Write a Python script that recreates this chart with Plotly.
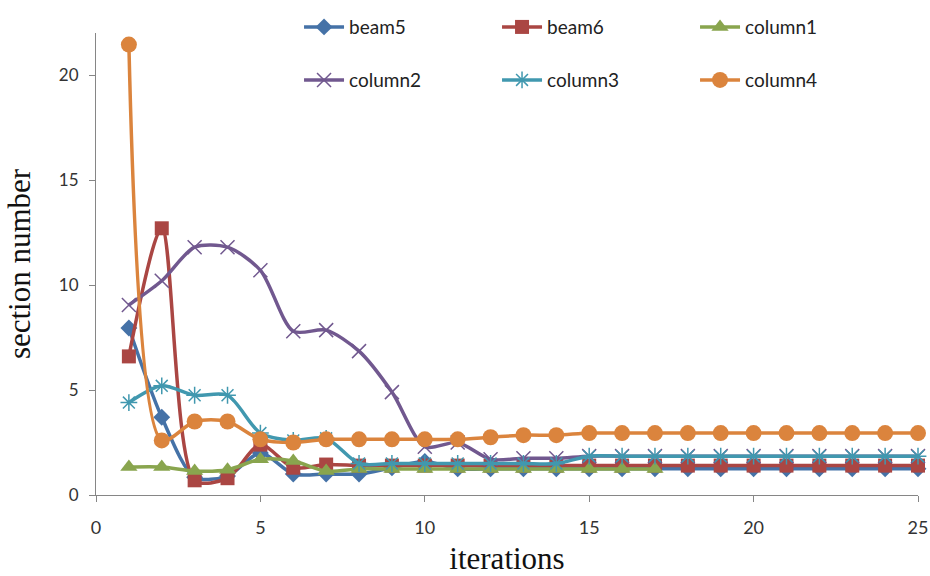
import plotly.graph_objects as go

iterations = list(range(1, 26))
beam5 = [7.95, 3.7, 0.85, 0.9, 2.0, 1.0, 1.0, 1.0, 1.3, 1.6, 1.25, 1.25, 1.25, 1.25, 1.25,
         1.25, 1.25, 1.25, 1.25, 1.25, 1.25, 1.25, 1.25, 1.25, 1.25]
beam6 = [6.6, 12.7, 0.7, 0.8, 2.4, 1.3, 1.45, 1.4, 1.4, 1.4, 1.4, 1.4, 1.4, 1.4, 1.4,
         1.4, 1.4, 1.4, 1.4, 1.4, 1.4, 1.4, 1.4, 1.4, 1.4]
column1_x = list(range(1, 18))
column1 = [1.33, 1.33, 1.14, 1.2, 1.7, 1.62, 1.14, 1.24, 1.24, 1.24, 1.24, 1.24, 1.24, 1.24,
           1.24, 1.24, 1.24]
column2 = [9.05, 10.2, 11.8, 11.8, 10.7, 7.8, 7.85, 6.85, 4.9, 2.3, 2.5, 1.7, 1.75, 1.75, 1.85,
           1.85, 1.85, 1.85, 1.85, 1.85, 1.85, 1.85, 1.85, 1.85, 1.85]
column3 = [4.4, 5.2, 4.75, 4.75, 2.95, 2.6, 2.7, 1.5, 1.5, 1.5, 1.5, 1.5, 1.5, 1.5, 1.85,
           1.85, 1.85, 1.85, 1.85, 1.85, 1.85, 1.85, 1.85, 1.85, 1.85]
column4 = [21.45, 2.6, 3.5, 3.5, 2.65, 2.5, 2.65, 2.65, 2.65, 2.65, 2.65, 2.75, 2.85, 2.85, 2.95,
           2.95, 2.95, 2.95, 2.95, 2.95, 2.95, 2.95, 2.95, 2.95, 2.95]

series = [
    ("beam5", iterations, beam5, "#4572A7", "diamond", 13, "legend"),
    ("beam6", iterations, beam6, "#AA4643", "square", 14, "legend"),
    ("column1", column1_x, column1, "#89A54E", "triangle-up", 15, "legend"),
    ("column2", iterations, column2, "#71588F", "x-thin-open", 14, "legend2"),
    ("column3", iterations, column3, "#4198AF", "asterisk-open", 14, "legend2"),
    ("column4", iterations, column4, "#DB843D", "circle", 16, "legend2"),
]

fig = go.Figure()
for name, xs, ys, color, sym, size, leg in series:
    open_sym = sym.endswith("open")
    fig.add_trace(go.Scatter(
        x=xs, y=ys, name=name, mode="lines+markers",
        line=dict(color=color, width=3.5, shape="spline", smoothing=0.8),
        marker=dict(symbol=sym, size=size, color=color,
                    line=dict(color=color, width=1.5 if open_sym else 0)),
        cliponaxis=False, legend=leg,
    ))

ytickfont = dict(family="Lato, Open Sans, sans-serif", size=17, color="#333333")
xtickfont = dict(family="Lato, Open Sans, sans-serif", size=18, color="#333333")
legfont = dict(family="Lato, Open Sans, sans-serif", size=19, color="#222222")
titlefont = dict(family="Liberation Serif, serif", size=31, color="#111111")

fig.update_layout(
    width=930, height=576,
    margin=dict(l=96, r=12, t=33, b=81, autoexpand=False),
    plot_bgcolor="white", paper_bgcolor="white",
    xaxis=dict(range=[0, 25], tickvals=[0, 5, 10, 15, 20, 25], showgrid=False, zeroline=False,
               showline=True, linecolor="#868686", linewidth=1, ticks="outside", ticklen=6,
               tickcolor="#868686", tickfont=xtickfont, ticklabelstandoff=10,
               ticklabeloverflow="allow", automargin=False,
               title=dict(text="iterations", font=titlefont, standoff=25)),
    yaxis=dict(range=[0, 22], tickvals=[0, 5, 10, 15, 20], showgrid=False, zeroline=False,
               showline=True, linecolor="#868686", linewidth=1, ticks="outside", ticklen=6,
               tickcolor="#868686", tickfont=ytickfont, ticklabelstandoff=7, automargin=False,
               title=dict(text="section number", font=titlefont, standoff=19)),
    legend=dict(orientation="h", x=0.247, xanchor="left", yref="container", y=0.953,
                yanchor="middle",
                entrywidth=143, entrywidthmode="pixels", itemwidth=40, font=legfont,
                bgcolor="rgba(0,0,0,0)", traceorder="normal"),
    legend2=dict(orientation="h", x=0.247, xanchor="left", yref="container", y=0.861,
                 yanchor="middle",
                 entrywidth=143, entrywidthmode="pixels", itemwidth=40, font=legfont,
                 bgcolor="rgba(0,0,0,0)", traceorder="normal"),
)

fig.write_html("out.html")
